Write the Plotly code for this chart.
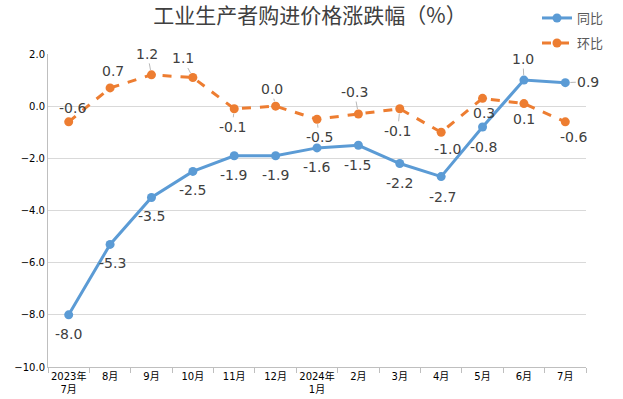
import plotly.graph_objects as go

categories = ["2023年<br>7月", "8月", "9月", "10月", "11月", "12月", "2024年<br>1月",
              "2月", "3月", "4月", "5月", "6月", "7月"]
yoy = [-8.0, -5.3, -3.5, -2.5, -1.9, -1.9, -1.6, -1.5, -2.2, -2.7, -0.8, 1.0, 0.9]
mom = [-0.6, 0.7, 1.2, 1.1, -0.1, 0.0, -0.5, -0.3, -0.1, -1.0, 0.3, 0.1, -0.6]

# label offsets in pixels (dx, dy) and whether an Excel leader line is shown
yoy_off = [(0, 19), (2, 19), (0, 19), (0, 19), (-1, 19), (0, 19), (-1, 19), (-1, 20),
           (0, 19), (1, 20), (1, 20), (-1, -21), (23, -1)]
yoy_lead = [False] * 11 + [True, True]
mom_off = [(4, -14), (3, -17), (-4, -21), (-10, -19), (-2, 18), (-4, -17), (2, 18),
           (-4, -22), (-2, 22), (6, 17), (1, 15), (0, 15), (8, 15)]
mom_lead = [False, False, True, True, True, True, True, True, True, False, False, False, False]

BLUE = "#5B9BD5"
ORANGE = "#ED7D31"
FONT = "DejaVu Sans, Noto Sans CJK SC, sans-serif"

# body margin is removed in the page, so layout pixels equal screen pixels
L, T, PW, PH = 48, 54, 538, 313
W, H = 623, 399

fig = go.Figure()
fig.add_trace(go.Scatter(x=categories, y=yoy, name="同比", mode="lines+markers",
                         line=dict(color=BLUE, width=3),
                         marker=dict(size=9, color=BLUE), legend="legend"))
fig.add_trace(go.Scatter(x=categories, y=mom, name="环比", mode="lines+markers",
                         line=dict(color=ORANGE, width=3, dash="dash"),
                         marker=dict(size=9, color=ORANGE), legend="legend2"))

annotations = []
for vals, offs, leads in ((yoy, yoy_off, yoy_lead), (mom, mom_off, mom_lead)):
    for c, v, (dx, dy), lead in zip(categories, vals, offs, leads):
        annotations.append(dict(
            x=c, y=v, text=f"{v:.1f}", showarrow=True, ax=dx, ay=dy,
            arrowhead=0, arrowwidth=0.8, standoff=5,
            arrowcolor="#A6A6A6" if lead else "rgba(0,0,0,0)",
            font=dict(family=FONT, size=14, color="#404040")))

leg_font = dict(family="Noto Sans CJK SC", size=13, color="#595959")
leg_x = (537 - L) / PW


def leg_y(screen_y):
    return (T + PH - screen_y) / PH


fig.update_layout(
    width=W, height=H,
    margin=dict(l=L, r=W - L - PW, t=T, b=H - T - PH, autoexpand=False),
    paper_bgcolor="white", plot_bgcolor="white",
    title=dict(text="工业生产者购进价格涨跌幅（%）", x=310 / W, xanchor="center",
               xref="container", yref="container", y=1 - 16 / H, yanchor="middle",
               font=dict(family="Noto Sans CJK SC", size=21, color="#404040")),
    showlegend=True,
    legend=dict(x=leg_x, y=leg_y(18), xanchor="left", yanchor="middle",
                font=leg_font, bgcolor="rgba(0,0,0,0)", itemwidth=30),
    legend2=dict(x=leg_x, y=leg_y(43), xanchor="left", yanchor="middle",
                 font=leg_font, bgcolor="rgba(0,0,0,0)", itemwidth=30),
    annotations=annotations,
    font=dict(family=FONT),
    hovermode=False,
)
fig.update_xaxes(type="category", range=[-0.5, len(categories) - 0.5],
                 showgrid=False, showline=True, linecolor="#BFBFBF",
                 linewidth=1, ticks="outside", tickson="boundaries", ticklen=5,
                 tickcolor="#BFBFBF", tickangle=0,
                 tickfont=dict(family=FONT, size=10, color="#000000"))
fig.update_yaxes(range=[-10, 2], dtick=2, tickformat=".1f", showgrid=True,
                 gridcolor="#D9D9D9", gridwidth=1, zeroline=False,
                 showline=True, linecolor="#BFBFBF", linewidth=1, ticks="",
                 tickfont=dict(family=FONT, size=10, color="#000000"))

fig.write_html("out.html",
               config=dict(displayModeBar=False, staticPlot=True),
               post_script="document.body.style.margin='0';document.body.style.overflow='hidden';")
